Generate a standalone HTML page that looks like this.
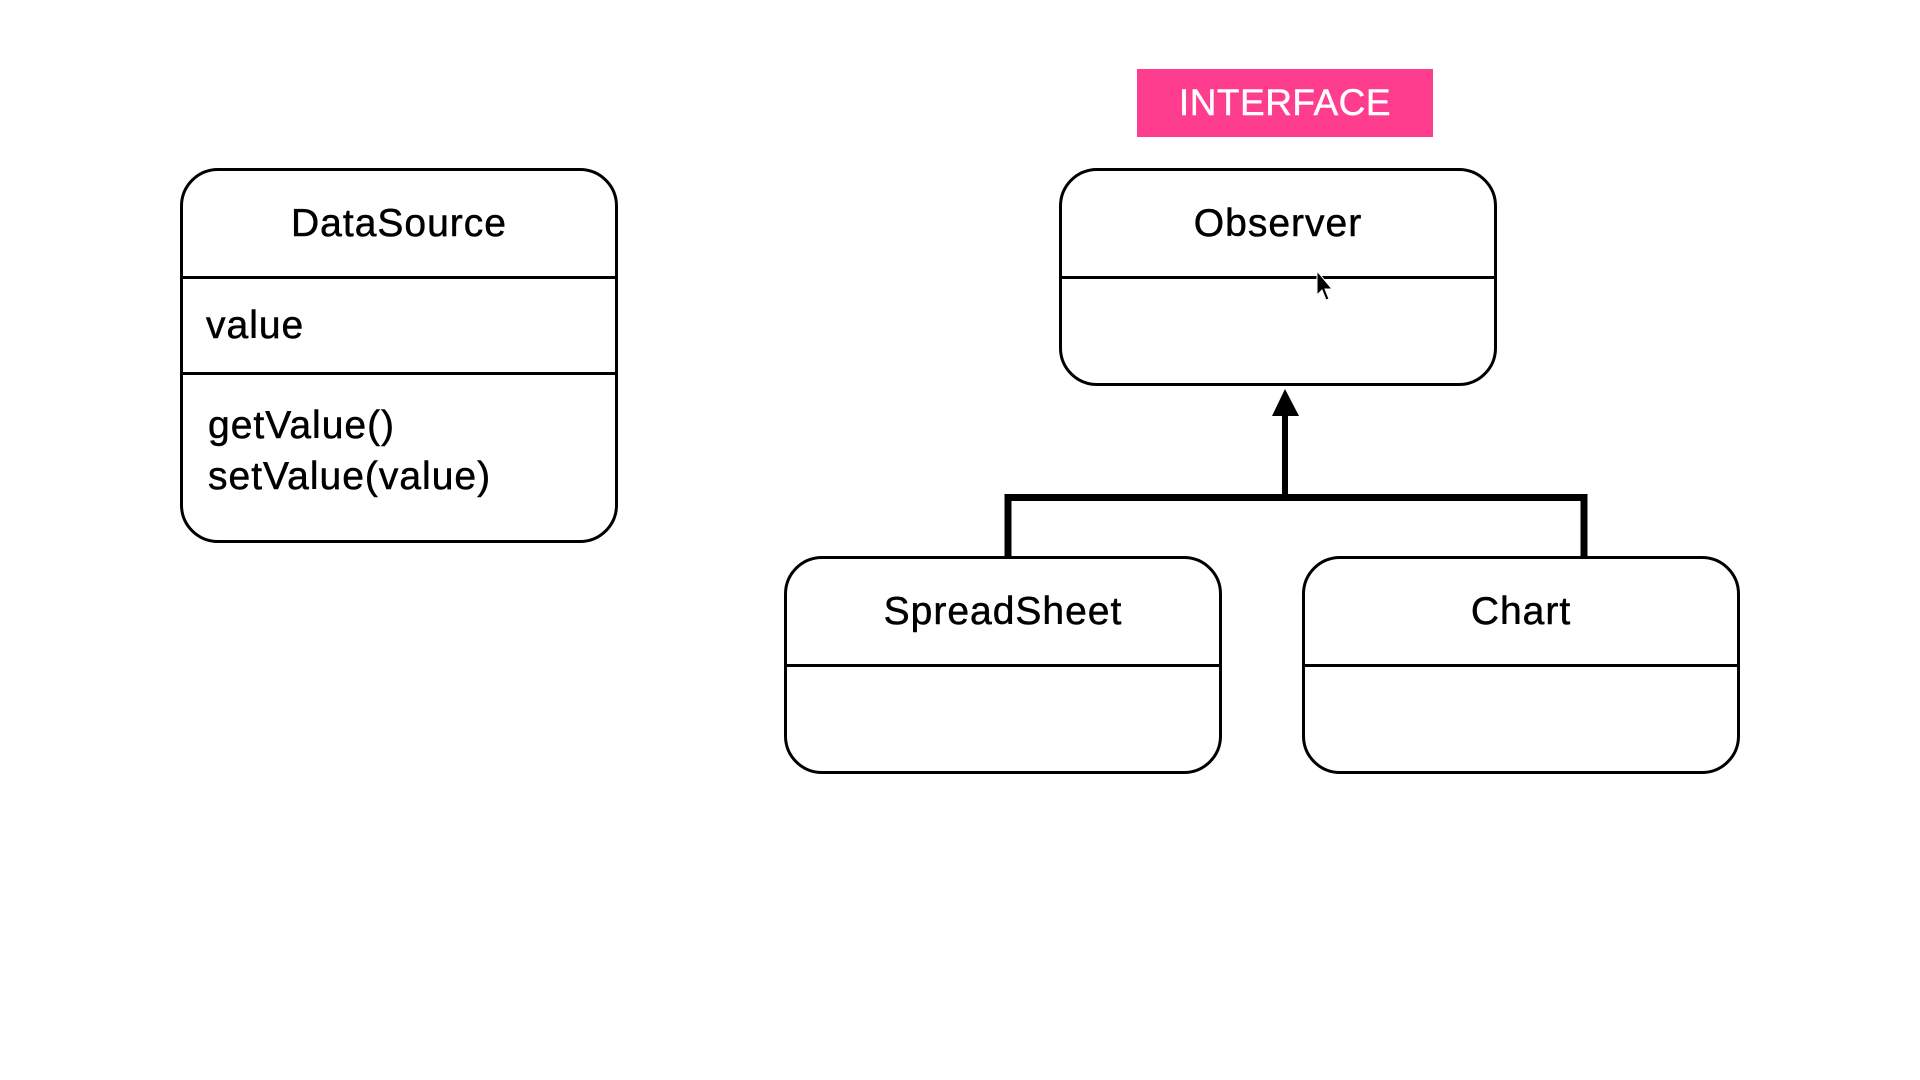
<!DOCTYPE html>
<html><head><meta charset="utf-8"><style>
html,body{margin:0;padding:0;background:#fff;}
body{width:1920px;height:1080px;position:relative;overflow:hidden;font-family:"Liberation Sans",sans-serif;color:#000;}
.box{position:absolute;border:3.8px solid #000;border-radius:38px;box-sizing:border-box;}
.hr{position:absolute;left:0;right:0;height:0;border-top:3.8px solid #000;}
.t{position:absolute;font-size:39px;letter-spacing:1px;white-space:nowrap;-webkit-text-stroke:0.5px #000;}
</style></head><body>
<div style="position:absolute;left:1137px;top:69px;width:296px;height:68px;background:#ff3d8e;color:#fff;font-size:37px;letter-spacing:0.5px;line-height:68px;text-align:center;-webkit-text-stroke:0.4px #fff;">INTERFACE</div>

<div class="box" style="left:180px;top:168px;width:438px;height:375px;">
  <div class="t" style="left:0;right:0;text-align:center;top:31px;">DataSource</div>
  <div class="hr" style="top:105px;"></div>
  <div class="t" style="left:23px;top:133px;">value</div>
  <div class="hr" style="top:201px;"></div>
  <div class="t" style="left:25px;top:229px;line-height:51px;">getValue()<br>setValue(value)</div>
</div>

<div class="box" style="left:1059px;top:168px;width:438px;height:218px;">
  <div class="t" style="left:0;right:0;text-align:center;top:31px;">Observer</div>
  <div class="hr" style="top:105px;"></div>
</div>

<div class="box" style="left:784px;top:556px;width:438px;height:218px;">
  <div class="t" style="left:0;right:0;text-align:center;top:31px;">SpreadSheet</div>
  <div class="hr" style="top:105px;"></div>
</div>

<div class="box" style="left:1302px;top:556px;width:438px;height:218px;">
  <div class="t" style="left:0;right:0;text-align:center;top:31px;">Chart</div>
  <div class="hr" style="top:105px;"></div>
</div>

<svg style="position:absolute;left:0;top:0" width="1920" height="1080">
  <polygon points="1285,389 1272,416 1299,416" fill="#000"/>
  <line x1="1285" y1="414" x2="1285" y2="497" stroke="#000" stroke-width="6"/>
  <polyline points="1008,558 1008,497.5 1584,497.5 1584,558" fill="none" stroke="#000" stroke-width="7"/>
  <polygon points="1317,271 1317,295 1322,290 1326,300 1329,299 1325,289 1332,289" fill="#000" stroke="#fff" stroke-width="1"/>
</svg>
</body></html>
